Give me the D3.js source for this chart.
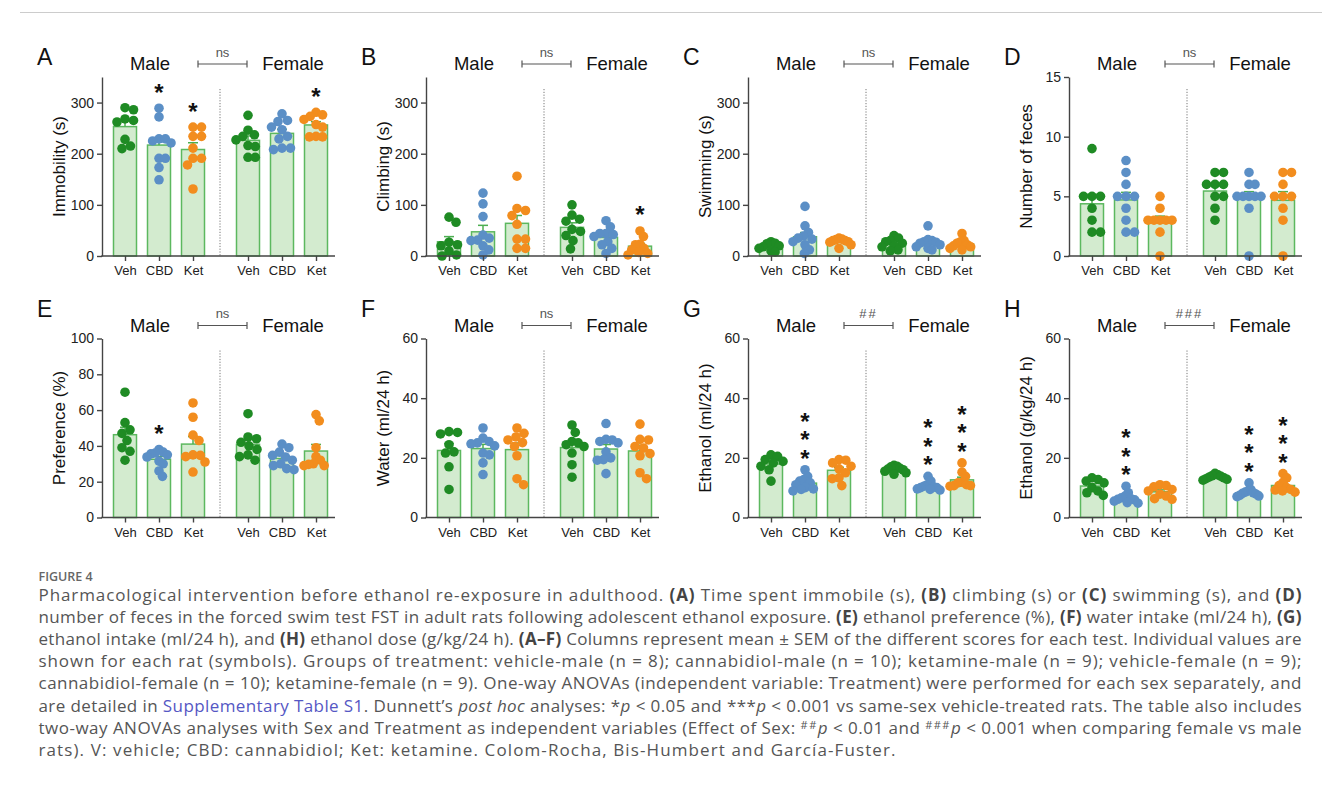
<!DOCTYPE html>
<html lang="en">
<head>
<meta charset="UTF-8">
<script src="https://d3js.org/d3.v7.min.js"></script>
<style>
  body { margin: 0; background: #fff; }
  svg { display: block; font-family: "Liberation Sans", Arial, sans-serif; }
  .caption { font-family: "Open Sans", "Noto Sans", sans-serif; }
</style>
</head>
<body>
<svg id="fig" width="1322" height="793"></svg>
<script>
// ---- data (individual rats; order Veh-M, CBD-M, Ket-M, Veh-F, CBD-F, Ket-F) ----
const treatments = ["Veh", "CBD", "Ket"];
const sexes = ["Male", "Female"];
const dotColors = ["#1f8b24", "#5b8fc6", "#f28d1e"];

const immobility = [
  [290, 286, 268, 265, 262, 228, 215, 210],
  [289, 272, 229, 229, 225, 221, 191, 191, 173, 149],
  [252, 252, 234, 234, 211, 191, 191, 178, 131],
  [275, 246, 237, 234, 227, 216, 214, 193, 193],
  [278, 265, 263, 252, 247, 234, 229, 211, 211, 208],
  [281, 276, 273, 267, 257, 252, 234, 233, 233]
];
const climbing = [
  [76, 66, 27, 22, 20, 10, 2, 0],
  [123, 102, 77, 41, 35, 31, 30, 20, 12, 2],
  [156, 93, 89, 79, 62, 33, 33, 15, 15],
  [100, 80, 72, 68, 52, 48, 40, 30, 14],
  [69, 57, 44, 44, 42, 38, 28, 22, 15, 5],
  [49, 38, 23, 22, 15, 12, 7, 5, 2]
];
const swimming = [
  [28, 25, 24, 20, 18, 15, 10, 8],
  [97, 59, 46, 39, 35, 33, 28, 22, 12, 5],
  [35, 33, 32, 30, 30, 28, 27, 22, 15],
  [40, 35, 30, 28, 25, 20, 18, 12, 10],
  [59, 32, 30, 28, 27, 25, 22, 18, 15, 12],
  [44, 30, 28, 25, 22, 20, 18, 15, 12]
];
const feces = [
  [9, 5, 5, 5, 4, 3, 2, 2],
  [8, 7, 6, 5, 5, 5, 4, 3, 2, 2],
  [5, 4, 3, 3, 3, 3, 3, 2, 0],
  [7, 7, 6, 6, 6, 5, 5, 4, 3],
  [7, 6, 6, 5, 5, 5, 5, 5, 4, 0],
  [7, 7, 6, 5, 5, 5, 4, 3, 0]
];
const preference = [
  [70, 53, 49, 47, 43, 39, 37, 32],
  [38, 36.5, 36, 35.6, 35, 33.8, 31.5, 30, 26, 23],
  [64, 56, 46, 43, 35, 34.7, 34, 31, 25.4],
  [58, 45, 44, 42, 40, 38, 35, 34, 32],
  [41, 39, 36.5, 34.7, 33.8, 32, 30, 29, 27.3, 26.7],
  [57.5, 54, 39, 34, 32, 30, 29.7, 29, 29]
];
const water = [
  [28.5, 28.8, 28, 24.4, 22, 21.6, 17, 9.4],
  [30, 26.6, 25.5, 25, 24.7, 24, 21.6, 21, 18.3, 14.4],
  [30, 28.2, 27, 26, 25.1, 23.8, 20.7, 13, 11],
  [31, 28.5, 25.5, 25, 24.4, 23.8, 21.6, 17.7, 13.5],
  [31.5, 26.2, 26, 25.5, 25, 22, 20, 19.4, 19.2, 14.7],
  [31.3, 26.2, 26, 23.8, 23.3, 21.4, 20.7, 15, 13]
];
const ethanolMl = [
  [21, 20.5, 19.4, 18.8, 18.3, 17.2, 16, 12.2],
  [16, 13.8, 12.7, 12.2, 11.6, 11, 10, 9.6, 9.4, 8.9],
  [19.4, 19.2, 18.3, 17.2, 16.3, 15, 13.3, 13, 10.7],
  [17.5, 17.2, 17, 16.5, 16.2, 16, 15.5, 15, 14.5],
  [13.8, 12.2, 11, 10.5, 10.3, 10, 10, 9.6, 9.4, 9.2],
  [18.3, 15.2, 13.8, 11.8, 11.6, 11, 10.7, 10.7, 10.5]
];
const ethanolDose = [
  [13.3, 12.7, 12.2, 11.6, 10, 8.9, 8.3, 7.4],
  [10.5, 8.3, 7.2, 6.6, 6.3, 6.1, 5.9, 5.5, 5, 4.8],
  [11, 10.7, 10.3, 9.4, 8.9, 7.8, 7.2, 6.3, 6.1],
  [14.8, 14.3, 14, 13.8, 13.5, 13.3, 13, 12.8, 12.5],
  [11.6, 9.4, 8.9, 8.5, 8.3, 8.1, 7.8, 7.4, 7.2, 7],
  [14.7, 13.3, 11.8, 10.7, 10, 9.4, 9.2, 8.9, 8.5]
];

// y ticks
const ticksSeconds = [0, 100, 200, 300];
const ticksFeces = [0, 5, 10, 15];
const ticksPercent = [0, 20, 40, 60, 80, 100];
const ticksIntake = [0, 20, 40, 60];

// Dunnett stars per group, and sex effect label
const starsA = ["", "*", "*", "", "", "*"];
const starsB = ["", "", "", "", "", "*"];
const starsNone = ["", "", "", "", "", ""];
const starsE = ["", "*", "", "", "", ""];
const starsGH = ["", "***", "", "", "***", "***"];
const sexEffect = ["ns", "ns", "ns", "ns", "ns", "ns", "##", "###"];

const panels = [
  {letter: "A", title: "Immobility (s)", data: immobility, max: 350, ticks: ticksSeconds, stars: starsA},
  {letter: "B", title: "Climbing (s)", data: climbing, max: 350, ticks: ticksSeconds, stars: starsB},
  {letter: "C", title: "Swimming (s)", data: swimming, max: 350, ticks: ticksSeconds, stars: starsNone},
  {letter: "D", title: "Number of feces", data: feces, max: 15, ticks: ticksFeces, stars: starsNone},
  {letter: "E", title: "Preference (%)", data: preference, max: 100, ticks: ticksPercent, stars: starsE},
  {letter: "F", title: "Water (ml/24 h)", data: water, max: 60, ticks: ticksIntake, stars: starsNone},
  {letter: "G", title: "Ethanol (ml/24 h)", data: ethanolMl, max: 60, ticks: ticksIntake, stars: starsGH},
  {letter: "H", title: "Ethanol (g/kg/24 h)", data: ethanolDose, max: 60, ticks: ticksIntake, stars: starsGH}
];

// ---- layout ----
const svg = d3.select("#fig");
const colX = [125, 449, 771, 1092];
const rowZero = [256, 517.5];
const letterY = [65, 317];
const plotH = 179;
const axisGray = "#444";

svg.append("line")
  .attr("x1", 20).attr("x2", 1322).attr("y1", 12.5).attr("y2", 12.5)
  .attr("stroke", "#ccc").attr("stroke-width", 1);

// spread dots horizontally like a scatter column
function swarm(values, y, minDist, maxSpread) {
  const placed = [];
  const offs = new Array(values.length);
  d3.range(values.length).sort((a, b) => values[b] - values[a]).forEach(i => {
    const py = y(values[i]);
    for (let k = 0; k < 400; k++) {
      const dx = (k % 2 ? 1 : -1) * Math.ceil(k / 2) * 0.5;
      if (placed.every(p => Math.hypot(p.x - dx, p.y - py) >= minDist)) {
        offs[i] = dx; placed.push({x: dx, y: py}); break;
      }
    }
  });
  const m = d3.max(offs, Math.abs) || 1;
  const s = m > maxSpread ? maxSpread / m : 1;
  return offs.map(o => o * s);
}

panels.forEach((p, i) => {
  const col = i % 4, row = Math.floor(i / 4);
  const x0 = colX[col], y0 = rowZero[row];
  const axisX = x0 - 23;
  const g = svg.append("g");

  const y = d3.scaleLinear().domain([0, p.max]).range([y0, y0 - plotH]);
  const sexX = d3.scalePoint().domain(sexes).range([x0 + 34, x0 + 157]);
  const trtX = d3.scalePoint().domain(treatments).range([-34, 34]);

  const groups = p.data.map((vals, k) => {
    const sex = sexes[Math.floor(k / 3)], trt = treatments[k % 3];
    return {
      key: sex + "-" + trt, trt, color: dotColors[k % 3], vals,
      cx: sexX(sex) + trtX(trt),
      mean: d3.mean(vals),
      sem: d3.deviation(vals) / Math.sqrt(vals.length),
      star: p.stars[k]
    };
  });

  // divider between sexes
  g.append("line")
    .attr("x1", x0 + 95).attr("x2", x0 + 95)
    .attr("y1", y(p.max) + 12).attr("y2", y0)
    .attr("stroke", "#777").attr("stroke-width", 1).attr("stroke-dasharray", "1.2,1.6");

  // bars
  g.selectAll("rect.bar").data(groups).join("rect")
    .attr("class", "bar")
    .attr("x", d => d.cx - 11.5).attr("width", 23)
    .attr("y", d => y(d.mean)).attr("height", d => y0 - y(d.mean))
    .attr("fill", "#d3ebcf").attr("stroke", "#5cb85f").attr("stroke-width", 1.5);

  // error bars (mean + SEM)
  const eb = g.selectAll("g.err").data(groups).join("g").attr("class", "err")
    .attr("stroke", "#4daf51").attr("stroke-width", 1.5);
  eb.append("line").attr("x1", d => d.cx).attr("x2", d => d.cx)
    .attr("y1", d => y(d.mean)).attr("y2", d => y(d.mean + d.sem));
  eb.append("line").attr("x1", d => d.cx - 5).attr("x2", d => d.cx + 5)
    .attr("y1", d => y(d.mean + d.sem)).attr("y2", d => y(d.mean + d.sem));

  // individual dots
  groups.forEach(gr => {
    const offs = swarm(gr.vals, y, 8.5, 12);
    g.selectAll(null).data(gr.vals).join("circle")
      .attr("cx", (d, j) => gr.cx + offs[j]).attr("cy", d => y(d))
      .attr("r", 4.8).attr("fill", gr.color);
  });

  // y axis
  const ya = g.append("g").attr("transform", `translate(${axisX},0)`)
    .call(d3.axisLeft(y).tickValues(p.ticks).tickSize(5).tickSizeOuter(0).tickPadding(3));
  ya.select(".domain").attr("stroke", axisGray).attr("stroke-width", 1.4);
  ya.selectAll(".tick line").attr("stroke", axisGray).attr("stroke-width", 1.4);
  ya.selectAll(".tick text").attr("font-size", 14).attr("fill", "#222")
    .attr("font-family", "Liberation Sans, Arial, sans-serif");

  // x axis
  const xs = d3.scaleOrdinal().domain(groups.map(d => d.key)).range(groups.map(d => d.cx));
  const xa = g.append("g").attr("transform", `translate(0,${y0})`)
    .call(d3.axisBottom(xs).tickSize(5).tickPadding(5).tickFormat(d => d.split("-")[1]));
  xa.select(".domain").remove();
  xa.selectAll(".tick line").attr("stroke", axisGray).attr("stroke-width", 1.4);
  xa.selectAll(".tick text").attr("font-size", 13).attr("fill", "#222")
    .attr("font-family", "Liberation Sans, Arial, sans-serif");
  g.append("line").attr("x1", axisX - 0.7).attr("x2", x0 + 210)
    .attr("y1", y0).attr("y2", y0).attr("stroke", axisGray).attr("stroke-width", 1.4);

  // axis title
  g.append("text")
    .attr("transform", `translate(${x0 - 66},${(y0 + y(p.max)) / 2}) rotate(-90)`)
    .attr("text-anchor", "middle").attr("dominant-baseline", "central")
    .attr("font-size", 17).attr("fill", "#111").text(p.title);

  // stars: one text per group, each asterisk placed with per-glyph x/y lists
  groups.filter(d => d.star).forEach(d => {
    const top = y(d3.max(d.vals));
    const n = d.star.length;
    const bottomCenter = top - (n === 1 ? 21 : 16.5);
    const ys = d3.range(n).map(k => bottomCenter - (n - 1 - k) * 18.5 + 13.5);
    g.append("text")
      .attr("x", ys.map(() => d.cx).join(" ")).attr("y", ys.join(" "))
      .attr("text-anchor", "middle").attr("font-size", 24).attr("font-weight", "bold")
      .attr("fill", "#111").text(d.star);
  });

  // sex labels, bracket and sex effect
  sexes.forEach((s, k) => {
    g.append("text").attr("x", k ? x0 + 168 : x0 + 25).attr("y", y0 - 186)
      .attr("text-anchor", "middle").attr("font-size", 18.5).attr("fill", "#111").text(s);
  });
  const by = y0 - 192;
  g.append("path")
    .attr("d", `M${x0 + 73},${by - 3.5}V${by + 3.5}M${x0 + 73},${by}H${x0 + 122}M${x0 + 122},${by - 3.5}V${by + 3.5}`)
    .attr("stroke", "#555").attr("stroke-width", 1.2).attr("fill", "none");
  g.append("text").attr("x", x0 + 97.5).attr("y", y0 - 199.5)
    .attr("text-anchor", "middle").attr("font-size", 13).attr("fill", "#555")
    .attr("letter-spacing", sexEffect[i] === "ns" ? 0 : 2).text(sexEffect[i]);

  // panel letter
  g.append("text").attr("x", x0 - 88).attr("y", letterY[row])
    .attr("font-size", 23).attr("fill", "#111").text(p.letter);
});

// ---- caption ----
const captionLines = [
  "Pharmacological intervention before ethanol re-exposure in adulthood. <b>(A)</b> Time spent immobile (s), <b>(B)</b> climbing (s) or <b>(C)</b> swimming (s), and <b>(D)</b>",
  "number of feces in the forced swim test FST in adult rats following adolescent ethanol exposure. <b>(E)</b> ethanol preference (%), <b>(F)</b> water intake (ml/24 h), <b>(G)</b>",
  "ethanol intake (ml/24 h), and <b>(H)</b> ethanol dose (g/kg/24 h). <b>(A–F)</b> Columns represent mean ± SEM of the different scores for each test. Individual values are",
  "shown for each rat (symbols). Groups of treatment: vehicle-male (n = 8); cannabidiol-male (n = 10); ketamine-male (n = 9); vehicle-female (n = 9);",
  "cannabidiol-female (n = 10); ketamine-female (n = 9). One-way ANOVAs (independent variable: Treatment) were performed for each sex separately, and",
  "are detailed in <a>Supplementary Table S1</a>. Dunnett’s <i>post hoc</i> analyses: *<i>p</i> < 0.05 and ***<i>p</i> < 0.001 vs same-sex vehicle-treated rats. The table also includes",
  "two-way ANOVAs analyses with Sex and Treatment as independent variables (Effect of Sex: <sup>##</sup><i>p</i> < 0.01 and <sup>###</sup><i>p</i> < 0.001 when comparing female vs male",
  "rats). V: vehicle; CBD: cannabidiol; Ket: ketamine. Colom-Rocha, Bis-Humbert and García-Fuster."
];
const lineWidths = [1263, 1263, 1263, 1263, 1263, 1263, 1263, 857];

svg.append("text").attr("class", "caption")
  .attr("x", 38.5).attr("y", 581).attr("font-size", 12.5).attr("font-weight", 600)
  .attr("fill", "#666").text("FIGURE 4");

captionLines.forEach((line, li) => {
  const t = svg.append("text").attr("class", "caption")
    .attr("x", 38.5).attr("y", 600.5 + li * 22.2)
    .attr("font-size", 17).attr("fill", "#555")
    .attr("textLength", lineWidths[li]).attr("lengthAdjust", "spacing");
  const re = /<(b|i|a|sup)>(.*?)<\/\1>/g;
  let last = 0, m, shift = 0;
  const add = (txt, kind) => {
    const ts = t.append("tspan").text(txt);
    if (shift) { ts.attr("dy", shift); shift = 0; }
    if (kind === "b") ts.attr("font-weight", 700).attr("fill", "#444");
    if (kind === "i") ts.attr("font-style", "italic");
    if (kind === "a") ts.attr("fill", "#5557c4");
    if (kind === "sup") { ts.attr("dy", -5).attr("font-size", 11).attr("letter-spacing", 1); shift = 5; }
  };
  while ((m = re.exec(line)) !== null) {
    if (m.index > last) add(line.slice(last, m.index), "");
    add(m[2], m[1]);
    last = re.lastIndex;
  }
  if (last < line.length) add(line.slice(last), "");
});
</script>
</body>
</html>
